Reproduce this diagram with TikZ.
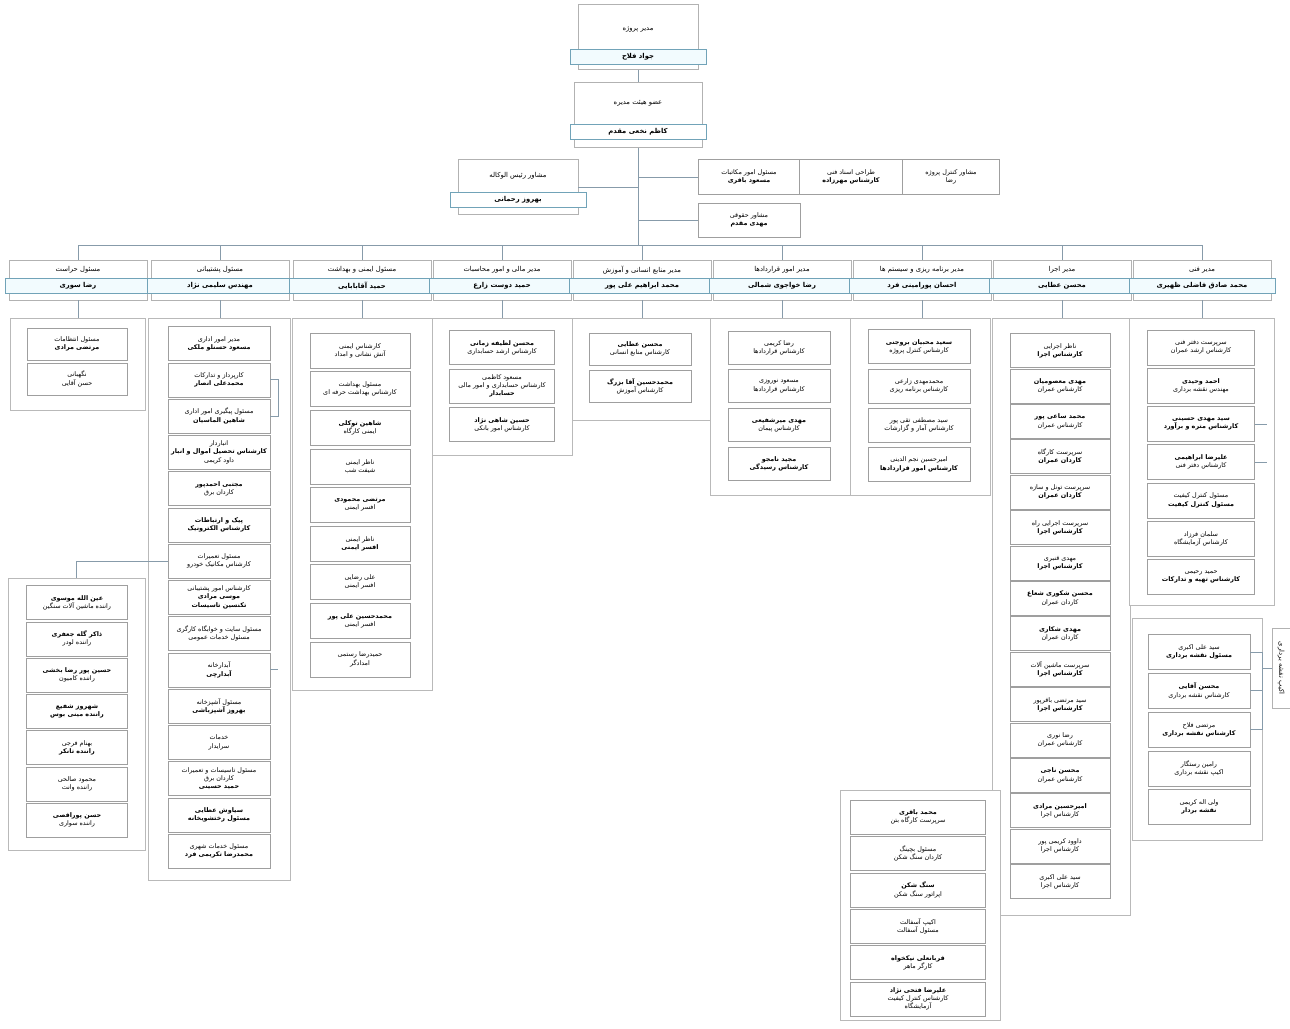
\documentclass[tikz,border=0pt]{standalone}
\usepackage{fontspec}
\newfontfamily\fafont[Script=Arabic]{DejaVu Sans}
\TeXXeTstate=1
\usetikzlibrary{positioning, calc}
\definecolor{connc}{RGB}{135,155,170}
\newcommand\fa[1]{{\fafont\beginR #1\endR}}
\newcommand\fb[1]{{\fafont\bfseries\beginR #1\endR}}
\tikzset{
    conn/.style={draw=connc, line width=0.8pt},
    grp/.style={draw=gray!55, fill=white, line width=0.6pt},
    item/.style={draw=gray!75, fill=white, line width=0.5pt, align=center, inner sep=1pt, font=\fontsize{6.4}{8.2}\selectfont, minimum height=33},
    topbox/.style={draw=gray!60, fill=white, line width=0.6pt},
    headbox/.style={draw=gray!60, fill=white, line width=0.6pt, minimum width=138, minimum height=40},
    band/.style={draw=gray!60!cyan, fill=cyan!5, line width=0.5pt, minimum width=146, minimum height=15, inner sep=1pt, font=\fontsize{6.8}{8}\selectfont},
    txt/.style={font=\fontsize{6.8}{8}\selectfont, inner sep=1pt}
}

\begin{document}
\begin{tikzpicture}[x=1pt, y=-1pt]
    \useasboundingbox (0,0) rectangle (1290,1028);
    \fill[white] (0,0) rectangle (1290,1028);

    % Top management
    \node[topbox, minimum width=120, minimum height=65] (m1) at (638,37) {};
    \node[txt] at (638,29) {\fa{مدیر پروژه}};
    \node[band, minimum width=136] (m1b) at (638,57) {\fb{جواد فلاح}};
    \node[topbox, minimum width=128, minimum height=65] (m2) at (638,115) {};
    \node[txt] at (638,103) {\fa{عضو هیئت مدیره}};
    \node[band, minimum width=136, fill=white] (m2b) at (638,132) {\fb{کاظم نخعی مقدم}};
    \draw[conn] (m1.south) -- (m2.north);

    % Staff
    \node[topbox, minimum width=120, minimum height=55] (a1) at (518,187) {};
    \node[txt] at (518,176) {\fa{مشاور رئیس الوکاله}};
    \node[band, minimum width=136, fill=white] (a1b) at (518,200) {\fb{بهروز رحمانی}};
    \node[item, minimum width=102, minimum height=35] (r1) at (749,177) {\fa{مسئول امور مکاتبات}\\\fb{مسعود باقری}};
    \node[item, minimum width=103, minimum height=35] (r2) at (851,177) {\fa{طراحی اسناد فنی}\\\fb{کارشناس مهرزاده}};
    \node[item, minimum width=97, minimum height=35] (r3) at (951,177) {\fa{مشاور کنترل پروژه}\\\fa{رضا}};
    \node[item, minimum width=102, minimum height=34] (r4) at (749,220) {\fa{مشاور حقوقی}\\\fb{مهدی مقدم}};

    \coordinate (bus) at (638,245);
    \draw[conn] (m2.south) -- (m2.south |- bus);
    \draw[conn] (a1.east) -- (a1.east -| m2.south);
    \draw[conn] (r1.west) -- (r1.west -| m2.south);
    \draw[conn] (r4.west) -- (r4.west -| m2.south);

    % Departments
    \foreach \x/\ta/\tb [count=\i] in {
        78/مسئول حراست/رضا سوری,
        220/مسئول پشتیبانی/مهندس سلیمی نژاد,
        362/مسئول ایمنی و بهداشت/حمید آقابابایی,
        502/مدیر مالی و امور محاسبات/حمید دوست زارع,
        642/مدیر منابع انسانی و آموزش/محمد ابراهیم علی پور,
        782/مدیر امور قراردادها/رضا خواجوی شمالی,
        922/مدیر برنامه ریزی و سیستم ها/احسان پورامینی فرد,
        1062/مدیر اجرا/محسن عطایی,
        1202/مدیر فنی/محمد صادق فاضلی ظهیری}
    {
        \node[headbox] (h\i) at (\x,280) {};
        \node[txt] at (\x,270) {\fa{\ta}};
        \node[band] (hb\i) at (\x,286) {\fb{\tb}};
        \draw[conn] (h\i.north) -- (h\i.north |- bus);
    }
    \draw[conn] (h1.north |- bus) -- (h9.north |- bus);

    % Groups
    \node[grp, minimum width=135, minimum height=92, anchor=north] (g1) at (77.5,318) {};
    \node[grp, minimum width=142, minimum height=562, anchor=north] (g2) at (219,318) {};
    \node[grp, minimum width=140, minimum height=372, anchor=north] (g3) at (362,318) {};
    \node[grp, minimum width=140, minimum height=137, anchor=north] (g4) at (502,318) {};
    \node[grp, minimum width=138, minimum height=102, anchor=north] (g5) at (641,318) {};
    \node[grp, minimum width=140, minimum height=177, anchor=north] (g6) at (780,318) {};
    \node[grp, minimum width=140, minimum height=177, anchor=north] (g7) at (920,318) {};
    \node[grp, minimum width=138, minimum height=597, anchor=north] (g8) at (1061,318) {};
    \node[grp, minimum width=145, minimum height=287, anchor=north] (g9) at (1202,318) {};
    \node[grp, minimum width=130, minimum height=222, anchor=north] (g9b) at (1197,618) {};
    \node[grp, minimum width=137, minimum height=272, anchor=north] (gL) at (76.5,578) {};
    \node[grp, minimum width=160, minimum height=230, anchor=north] (gB) at (920,790) {};
    \foreach \i in {1,...,9}
        \draw[conn] (h\i.south) -- (h\i.south |- g\i.north);

    % Protection
    \foreach \t [count=\i] in {
        {\fa{مسئول انتظامات}\\\fb{مرتضی مرادی}},
        {\fa{نگهبانی}\\\fa{حسن آقایی}}}
        \node[item, minimum width=100, minimum height=32] (c1-\i) at ({77},{344+35*(\i-1)}) {\t};

    % Support
    \foreach \t [count=\i] in {
        {\fa{مدیر امور اداری}\\\fb{مسعود حسنلو ملکی}},
        {\fa{کارپرداز و تدارکات}\\\fb{محمدعلی انصار}},
        {\fa{مسئول پیگیری امور اداری}\\\fb{شاهین الماسیان}},
        {\fa{انباردار}\\\fb{کارشناس تحصیل اموال و انبار}\\\fa{داود کریمی}},
        {\fb{مجتبی احمدپور}\\\fa{کاردان برق}},
        {\fb{پیک و ارتباطات}\\\fb{کارشناس الکترونیک}},
        {\fa{مسئول تعمیرات}\\\fa{کارشناس مکانیک خودرو}},
        {\fa{کارشناس امور پشتیبانی}\\\fb{موسی مرادی}\\\fb{تکنسین تاسیسات}},
        {\fa{مسئول سایت و خوابگاه کارگری}\\\fa{مسئول خدمات عمومی}},
        {\fa{آبدارخانه}\\\fb{آبدارچی}},
        {\fa{مسئول آشپزخانه}\\\fb{بهروز آشپزباشی}},
        {\fa{خدمات}\\\fa{سرایدار}},
        {\fa{مسئول تاسیسات و تعمیرات}\\\fa{کاردان برق}\\\fb{حمید حسینی}},
        {\fb{سیاوش عطایی}\\\fb{مسئول رختشویخانه}},
        {\fa{مسئول خدمات شهری}\\\fb{محمدرضا تکریمی فرد}}}
        \node[item, minimum width=102, minimum height=34] (c2-\i) at ({219},{343.5+36.25*(\i-1)}) {\t};
    \draw[conn] (c2-2.east) -- ++(8,0) |- (c2-3.east);
    \draw[conn] (c2-10.east) -- ++(8,0);
    \draw[conn] (c2-7.west) -| (gL.north);

    % Drivers
    \foreach \t [count=\i] in {
        {\fb{عین الله موسوی}\\\fa{راننده ماشین آلات سنگین}},
        {\fb{ذاکر گله جعفری}\\\fa{راننده لودر}},
        {\fb{حسین پور رضا بخشی}\\\fa{راننده کامیون}},
        {\fb{شهروز شفیع}\\\fb{راننده مینی بوس}},
        {\fa{بهنام فرجی}\\\fb{راننده تانکر}},
        {\fa{محمود صالحی}\\\fa{راننده وانت}},
        {\fb{حسن پوراقصی}\\\fa{راننده سواری}}}
        \node[item, minimum width=101, minimum height=34] (d\i) at ({77},{602.5+36.25*(\i-1)}) {\t};

    % Safety
    \foreach \t [count=\i] in {
        {\fa{کارشناس ایمنی}\\\fa{آتش نشانی و امداد}},
        {\fa{مسئول بهداشت}\\\fa{کارشناس بهداشت حرفه ای}},
        {\fb{شاهین توکلی}\\\fa{ایمنی کارگاه}},
        {\fa{ناظر ایمنی}\\\fa{شیفت شب}},
        {\fb{مرتضی محمودی}\\\fa{افسر ایمنی}},
        {\fa{ناظر ایمنی}\\\fb{افسر ایمنی}},
        {\fa{علی رضایی}\\\fa{افسر ایمنی}},
        {\fb{محمدحسین علی پور}\\\fa{افسر ایمنی}},
        {\fa{حمیدرضا رستمی}\\\fa{امدادگر}}}
        \node[item, minimum width=100, minimum height=35] (c3-\i) at ({360},{350.5+38.6*(\i-1)}) {\t};

    % Finance
    \foreach \t [count=\i] in {
        {\fb{محسن لطیفه زمانی}\\\fa{کارشناس ارشد حسابداری}},
        {\fa{مسعود کاظمی}\\\fa{کارشناس حسابداری و امور مالی}\\\fb{حسابدار}},
        {\fb{حسین شاهی نژاد}\\\fa{کارشناس امور بانکی}}}
        \node[item, minimum width=105, minimum height=34] (c4-\i) at ({502},{347.5+38.5*(\i-1)}) {\t};

    % Human resources
    \foreach \t [count=\i] in {
        {\fb{محسن عطایی}\\\fa{کارشناس منابع انسانی}},
        {\fb{محمدحسین آقا بزرگ}\\\fa{کارشناس آموزش}}}
        \node[item, minimum width=102, minimum height=32] (c5-\i) at ({640},{349+37*(\i-1)}) {\t};

    % Contracts
    \foreach \t [count=\i] in {
        {\fa{رضا کریمی}\\\fa{کارشناس قراردادها}},
        {\fa{مسعود نوروزی}\\\fa{کارشناس قراردادها}},
        {\fb{مهدی میرشفیعی}\\\fa{کارشناس پیمان}},
        {\fb{مجید نامجو}\\\fb{کارشناس رسیدگی}}}
        \node[item, minimum width=102, minimum height=33] (c6-\i) at ({779},{347.5+38.7*(\i-1)}) {\t};

    % Planning
    \foreach \t [count=\i] in {
        {\fb{سعید محبیان بروجنی}\\\fa{کارشناس کنترل پروژه}},
        {\fa{محمدمهدی زارعی}\\\fa{کارشناس برنامه ریزی}},
        {\fa{سید مصطفی تقی پور}\\\fa{کارشناس آمار و گزارشات}},
        {\fa{امیرحسین نجم الدینی}\\\fb{کارشناس امور قراردادها}}}
        \node[item, minimum width=102, minimum height=34] (c7-\i) at ({919},{346.5+39.3*(\i-1)}) {\t};

    % Execution
    \foreach \t [count=\i] in {
        {\fa{ناظر اجرایی}\\\fb{کارشناس اجرا}},
        {\fb{مهدی معصومیان}\\\fa{کارشناس عمران}},
        {\fb{محمد ساعی پور}\\\fa{کارشناس عمران}},
        {\fa{سرپرست کارگاه}\\\fb{کاردان عمران}},
        {\fa{سرپرست تونل و سازه}\\\fb{کاردان عمران}},
        {\fa{سرپرست اجرایی راه}\\\fb{کارشناس اجرا}},
        {\fa{مهدی قنبری}\\\fb{کارشناس اجرا}},
        {\fb{محسن شکوری شعاع}\\\fa{کاردان عمران}},
        {\fb{مهدی شکاری}\\\fa{کاردان عمران}},
        {\fa{سرپرست ماشین آلات}\\\fb{کارشناس اجرا}},
        {\fa{سید مرتضی باقرپور}\\\fb{کارشناس اجرا}},
        {\fa{رضا نوری}\\\fa{کارشناس عمران}},
        {\fb{محسن ناجی}\\\fa{کارشناس عمران}},
        {\fb{امیرحسین مرادی}\\\fa{کارشناس اجرا}},
        {\fa{داوود کریمی پور}\\\fa{کارشناس اجرا}},
        {\fa{سید علی اکبری}\\\fa{کارشناس اجرا}}}
        \node[item, minimum width=100, minimum height=34] (c8-\i) at ({1060},{350.5+35.4*(\i-1)}) {\t};

    % Technical
    \foreach \t [count=\i] in {
        {\fa{سرپرست دفتر فنی}\\\fa{کارشناس ارشد عمران}},
        {\fb{احمد وحیدی}\\\fa{مهندس نقشه برداری}},
        {\fb{سید مهدی حسینی}\\\fb{کارشناس متره و برآورد}},
        {\fb{علیرضا ابراهیمی}\\\fa{کارشناس دفتر فنی}},
        {\fa{مسئول کنترل کیفیت}\\\fb{مسئول کنترل کیفیت}},
        {\fa{سلمان فرزاد}\\\fa{کارشناس آزمایشگاه}},
        {\fa{حمید رحیمی}\\\fb{کارشناس تهیه و تدارکات}}}
        \node[item, minimum width=107, minimum height=35] (c9-\i) at ({1201},{347.5+38.2*(\i-1)}) {\t};
    \draw[conn] (c9-3.east) -- ++(12,0);
    \draw[conn] (c9-4.east) -- ++(12,0);

    % Surveying
    \foreach \t [count=\i] in {
        {\fa{سید علی اکبری}\\\fb{مسئول نقشه برداری}},
        {\fb{محسن آقایی}\\\fa{کارشناس نقشه برداری}},
        {\fa{مرتضی فلاح}\\\fb{کارشناس نقشه برداری}},
        {\fa{رامین رستگار}\\\fa{اکیپ نقشه برداری}},
        {\fa{ولی اله کریمی}\\\fb{نقشه بردار}}}
        \node[item, minimum width=102, minimum height=35] (s\i) at ({1199},{652+38.8*(\i-1)}) {\t};
    \node[topbox, rotate=-90, minimum width=80, minimum height=18, txt] (lbl) at (1281,668) {\fa{اکیپ نقشه برداری}};
    \draw[conn] (s1.east) -- ++(12,0) |- (s3.east);
    \draw[conn] (s2.east) -- ++(12,0) coordinate (sj);
    \draw[conn] (sj |- lbl) -- (lbl);

    % Site crew
    \foreach \t [count=\i] in {
        {\fb{محمد باقری}\\\fa{سرپرست کارگاه بتن}},
        {\fa{مسئول بچینگ}\\\fa{کاردان سنگ شکن}},
        {\fb{سنگ شکن}\\\fa{اپراتور سنگ شکن}},
        {\fa{اکیپ آسفالت}\\\fa{مسئول آسفالت}},
        {\fb{قربانعلی نیکخواه}\\\fa{کارگر ماهر}},
        {\fb{علیرضا فتحی نژاد}\\\fa{کارشناس کنترل کیفیت}\\\fa{آزمایشگاه}}}
        \node[item, minimum width=135, minimum height=34] (b\i) at ({918},{817+36.4*(\i-1)}) {\t};
\end{tikzpicture}
\end{document}
